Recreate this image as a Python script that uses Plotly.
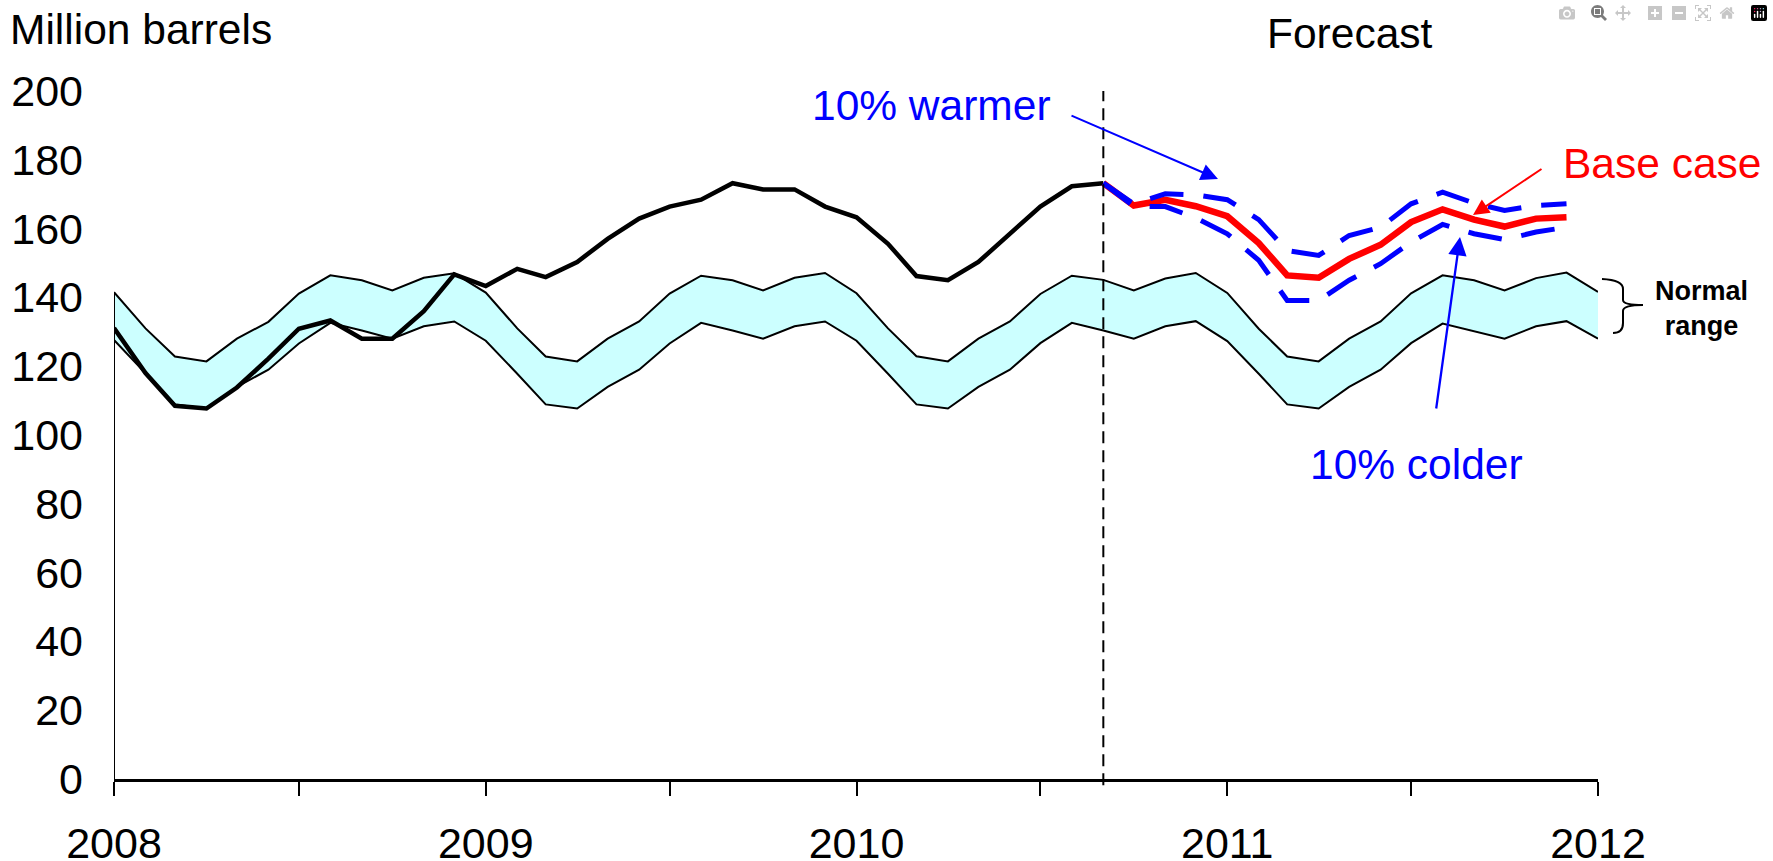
import pandas as pd
import plotly.graph_objects as go

# ---------------- data ----------------
dates = pd.date_range("2008-01-01", "2012-01-01", freq="MS")  # Jan 2008 .. Jan 2012 (49 months)

normal_upper = [141.5, 131.0, 122.8, 121.4, 128.0, 132.9, 141.1, 146.4, 145.0, 142.0, 145.7, 147.0,
                141.4, 131.0, 122.8, 121.4, 128.0, 133.0, 141.1, 146.3, 145.0, 142.0, 145.7, 147.1,
                141.2, 131.0, 122.9, 121.4, 128.0, 133.0, 141.0, 146.3, 145.1, 142.0, 145.5, 147.1,
                141.3, 130.9, 122.8, 121.4, 128.0, 133.0, 141.2, 146.4, 145.0, 142.0, 145.6, 147.2,
                141.6]
normal_lower = [127.6, 117.8, 108.9, 107.7, 114.0, 119.0, 126.6, 132.6, 130.4, 128.0, 131.6, 133.0,
                127.4, 117.8, 108.9, 107.7, 114.0, 119.0, 126.6, 132.6, 130.4, 128.0, 131.6, 133.0,
                127.4, 117.8, 108.9, 107.7, 114.0, 119.0, 126.7, 132.6, 130.4, 128.0, 131.6, 133.1,
                127.3, 117.8, 108.9, 107.7, 114.0, 119.0, 126.7, 132.4, 130.1, 128.0, 131.6, 133.1,
                128.0]

historical = [131.1, 118.0, 108.5, 107.7, 113.8, 122.2, 130.9, 133.3, 128.0, 128.0, 136.0, 146.7,
              143.3, 148.3, 145.9, 150.3, 157.0, 162.9, 166.4, 168.4, 173.2, 171.4, 171.4, 166.4,
              163.3, 155.6, 146.2, 145.0, 150.3, 158.5, 166.4, 172.3, 173.2]

base_case = [173.2, 166.7, 168.4, 166.5, 163.6, 155.8, 146.4, 145.7, 151.2, 155.3, 161.9, 165.6,
             162.6, 160.6, 162.9, 163.3]
warmer = [173.2, 167.2, 170.1, 169.8, 168.4, 162.6, 153.6, 152.2, 158.0, 160.4, 167.2, 170.6,
          167.4, 165.3, 166.7, 167.2]
colder = [173.2, 166.5, 166.4, 163.1, 158.5, 150.8, 139.1, 139.1, 145.0, 149.8, 156.1, 161.2,
          158.5, 156.8, 159.0, 160.4]

year_ticks = ["2008", "", "2009", "", "2010", "", "2011", "", "2012"]
y_ticks = list(range(0, 201, 20))

hist_dates = dates[:len(historical)]
fc_dates = dates[len(historical) - 1:len(historical) - 1 + len(base_case)]
tick_dates = pd.date_range("2008-01-01", "2012-01-01", freq="6MS")

# ---------------- layout helpers ----------------
W, H = 1773, 861
L, R, T, B = 114, 175, 91, 82
PW, PH = W - L - R, H - T - B
FONT = "Liberation Sans, Arial, Helvetica, sans-serif"


def px(xp):
    return (xp - L) / PW


def py(yp):
    return (H - B - yp) / PH


fig = go.Figure()

# normal range band
fig.add_trace(go.Scatter(x=dates, y=normal_lower, mode="lines",
                         line=dict(color="black", width=2), showlegend=False, hoverinfo="skip"))
fig.add_trace(go.Scatter(x=dates, y=normal_upper, mode="lines", fill="tonexty",
                         fillcolor="#CCFFFF", line=dict(color="black", width=2),
                         showlegend=False, hoverinfo="skip"))

# historical
fig.add_trace(go.Scatter(x=hist_dates, y=historical, mode="lines",
                         line=dict(color="black", width=4.5), showlegend=False))

# forecasts
fig.add_trace(go.Scatter(x=fc_dates, y=base_case, mode="lines",
                         line=dict(color="#FF0000", width=6.5), showlegend=False))
fig.add_trace(go.Scatter(x=fc_dates, y=colder, mode="lines",
                         line=dict(color="#0000FF", width=5, dash="34px,20px"), showlegend=False))
fig.add_trace(go.Scatter(x=fc_dates, y=warmer, mode="lines",
                         line=dict(color="#0000FF", width=5, dash="34px,20px"), showlegend=False))

shapes = []
# left vertical edge (axis segment from 0 up to the band start)
shapes.append(dict(type="line", xref="x", yref="y", x0=dates[0], x1=dates[0],
                   y0=0, y1=normal_upper[0], line=dict(color="black", width=2)))
# forecast divider
shapes.append(dict(type="line", xref="x", yref="paper", x0=hist_dates[-1], x1=hist_dates[-1],
                   y0=-0.009, y1=1.0, line=dict(color="black", width=2, dash="12px,7px")))
# brace for normal range
pts = [(1602, 279), (1623, 280), (1623, 289), (1623, 300), (1623, 305), (1643, 305),
       (1623, 305), (1623, 311), (1623, 323), (1623, 333), (1613, 333)]
p = [(px(a), py(b)) for a, b in pts]
path = (f"M {p[0][0]},{p[0][1]} Q {p[1][0]},{p[1][1]} {p[2][0]},{p[2][1]} "
        f"L {p[3][0]},{p[3][1]} Q {p[4][0]},{p[4][1]} {p[5][0]},{p[5][1]} "
        f"Q {p[6][0]},{p[6][1]} {p[7][0]},{p[7][1]} L {p[8][0]},{p[8][1]} "
        f"Q {p[9][0]},{p[9][1]} {p[10][0]},{p[10][1]}")
shapes.append(dict(type="path", xref="paper", yref="paper", path=path,
                   line=dict(color="black", width=2)))

ann = []


def text(t, x, y, color="black", size=42.5, bold=False, xanchor="center"):
    ann.append(dict(text=f"<b>{t}</b>" if bold else t, x=px(x), y=py(y), xref="paper", yref="paper",
                    showarrow=False, xanchor=xanchor, yanchor="middle",
                    font=dict(family=FONT, size=size, color=color)))


def arrow(tail, tip, color, width=2, size=1.7):
    ann.append(dict(text="", x=px(tip[0]), y=py(tip[1]), xref="paper", yref="paper",
                    ax=tail[0] - tip[0], ay=tail[1] - tip[1], axref="pixel", ayref="pixel",
                    showarrow=True, arrowhead=2, arrowsize=size, arrowwidth=width,
                    arrowcolor=color, standoff=0))


text("Million barrels", 8, 29, xanchor="left")
text("Forecast", 1350, 34)
text("10% warmer", 931, 105, color="#0000FF")
text("Base case", 1662, 164, color="#FF0000")
text("10% colder", 1416, 464, color="#0000FF")
text("Normal<br>range", 1701, 308, size=27, bold=True)

arrow((1070, 115), (1218, 179), "#0000FF", width=2, size=1.7)
arrow((1543, 168), (1473, 215), "#FF0000", width=2, size=1.6)
arrow((1436, 410), (1460, 237), "#0000FF", width=2.3, size=1.6)

fig.update_layout(
    width=W, height=H,
    margin=dict(l=L, r=R, t=T, b=B, autoexpand=False),
    paper_bgcolor="white", plot_bgcolor="white",
    showlegend=False,
    shapes=shapes, annotations=ann,
    font=dict(family=FONT, size=43, color="black"),
)
fig.update_xaxes(
    type="date", range=[dates[0], dates[-1]],
    tickmode="array", tickvals=tick_dates, ticktext=year_ticks,
    ticks="outside", ticklen=14, tickwidth=2, tickcolor="black",
    showline=True, linecolor="black", linewidth=2.5,
    showgrid=False, zeroline=False, automargin=False,
    tickfont=dict(family=FONT, size=43, color="black"),
    ticklabelstandoff=11,
)
fig.update_yaxes(
    range=[0, 200], tickmode="array", tickvals=y_ticks,
    ticks="", showline=False, showgrid=False, zeroline=False, automargin=False,
    tickfont=dict(family=FONT, size=43, color="black"),
    ticklabelstandoff=30,
)

fig.write_html("out.html",
               post_script="document.body.style.margin='0';document.body.style.padding='0';")
